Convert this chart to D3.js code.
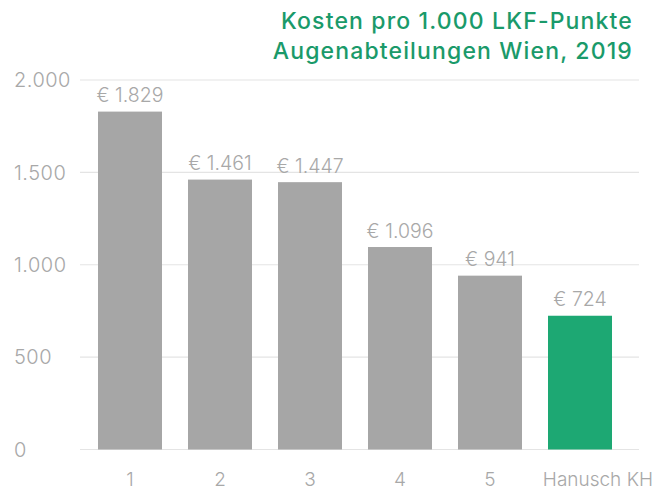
<!DOCTYPE html>
<html><head><meta charset="utf-8">
<script src="https://cdn.jsdelivr.net/npm/d3@7"></script>
<style>
html,body{margin:0;padding:0;background:#fff;}
svg{display:block;font-family:Inter,Lato,sans-serif;}
</style></head>
<body>
<svg id="chart" width="656" height="491"></svg>
<script>
const categories = ["1","2","3","4","5","Hanusch KH"];
const values = [1829,1461,1447,1096,941,724];
const highlight = [false,false,false,false,false,true];
const yTicks = [0,500,1000,1500,2000];
const yTickLabels = ["0","500","1.000","1.500","2.000"];
const valueLabels = ["€ 1.829","€ 1.461","€ 1.447","€ 1.096","€ 941","€ 724"];
const titleLines = ["Kosten pro 1.000 LKF-Punkte","Augenabteilungen Wien, 2019"];

const W = 656, H = 491;
const svg = d3.select("#chart");
const x = d3.scaleBand().domain(categories).range([85,625]).paddingInner(0.2889).paddingOuter(0.1444);
const y = d3.scaleLinear().domain([0,2000]).range([449.5,80]);
const grey = "#a6a6a6", green = "#1da873", textGrey = "#a8a8a8";

// gridlines
svg.append("g").selectAll("line").data(yTicks).join("line")
  .attr("x1",80).attr("x2",639)
  .attr("y1",d=>y(d)).attr("y2",d=>y(d))
  .attr("stroke","#e4e4e4").attr("stroke-width",1.2);

// y labels
svg.append("g").selectAll("text").data(yTicks).join("text")
  .attr("x",14).attr("y",d=>y(d)).attr("dy","0.36em")
  .attr("font-size",20).attr("font-weight",300).attr("letter-spacing",0.5).attr("fill",textGrey)
  .text((d,i)=>yTickLabels[i]);

// bars
svg.append("g").selectAll("rect").data(values).join("rect")
  .attr("x",(d,i)=>x(categories[i])).attr("width",x.bandwidth())
  .attr("y",d=>y(d)).attr("height",d=>y(0)-y(d))
  .attr("fill",(d,i)=>highlight[i]?green:grey);

// value labels
svg.append("g").selectAll("text").data(values).join("text")
  .attr("x",(d,i)=>x(categories[i])+x.bandwidth()/2).attr("y",d=>y(d)-9.5)
  .attr("text-anchor","middle").attr("font-size",19.5).attr("font-weight",300).attr("fill",textGrey)
  .text((d,i)=>valueLabels[i]);

// x labels
const xl = svg.append("g").selectAll("text").data(categories).join("text")
  .attr("x",d=>x(d)+x.bandwidth()/2).attr("y",486)
  .attr("text-anchor","middle").attr("font-size",19).attr("font-weight",300).attr("fill",textGrey)
  .text(d=>d);
xl.each(function(){
  const b=this.getBBox();
  if(b.width>x.bandwidth()){ d3.select(this).attr("text-anchor","end").attr("x",W-3); }
});

// title
svg.append("g").selectAll("text").data(titleLines).join("text")
  .attr("x",633).attr("y",(d,i)=>28.5+i*30)
  .attr("text-anchor","end").attr("font-size",23).attr("font-weight",500)
  .attr("letter-spacing",1.15)
  .attr("fill","#1a9a6a").text(d=>d);
</script>
</body></html>
